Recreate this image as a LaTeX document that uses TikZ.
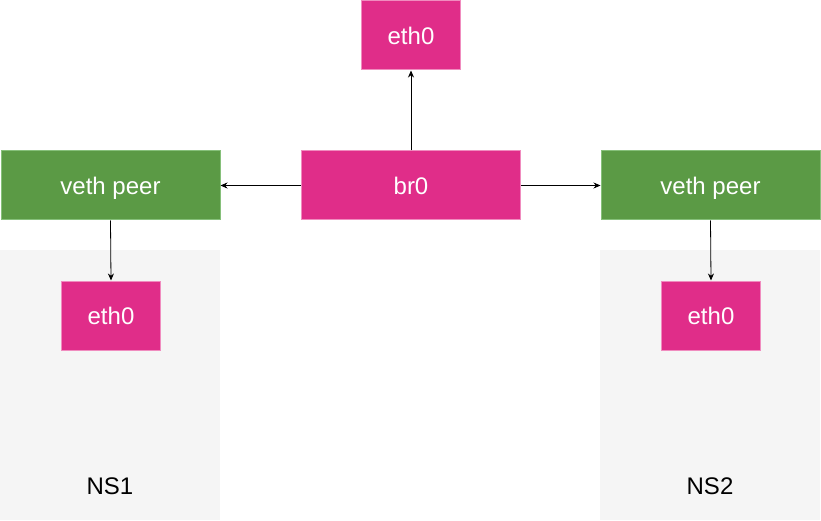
\documentclass[tikz,border=0pt]{standalone}
\usepackage{fontspec}
\setmainfont{Liberation Sans}
\usetikzlibrary{arrows.meta}
\definecolor{pinkfill}{HTML}{E02D89}
\definecolor{pinkline}{HTML}{F08CBF}
\definecolor{greenfill}{HTML}{5B9A45}
\definecolor{greenline}{HTML}{86C07A}
\definecolor{nsgray}{HTML}{F5F5F5}
\begin{document}
\begin{tikzpicture}[x=1pt,y=-1pt,
  txt/.style={font=\fontsize{24}{28}\selectfont,text height=19pt,text depth=1pt},
  pinkbox/.style={draw=pinkline,fill=pinkfill,line width=1pt,text=white,txt,inner sep=0pt,anchor=north west},
  greenbox/.style={draw=greenline,fill=greenfill,line width=1pt,text=white,txt,inner sep=0pt,anchor=north west},
  nsbox/.style={fill=nsgray,draw=none,inner sep=0pt,anchor=north west},
  nslabel/.style={txt,text=black},
  conn/.style={line width=0.8pt,-{Stealth[length=7pt,width=6pt]}}]
\useasboundingbox (0,0) rectangle (821,521);
% namespace backgrounds
\node[nsbox,minimum width=220pt,minimum height=270pt] (ns1) at (0,250) {};
\node[nsbox,minimum width=220pt,minimum height=270pt] (ns2) at (600,250) {};
\node[nslabel] (ns1l) at (110,485) {NS1};
\node[nslabel] (ns2l) at (710,485) {NS2};
% boxes
\node[pinkbox,minimum width=99pt,minimum height=69pt] (eth0top) at (361,0.5) {eth0};
\node[pinkbox,minimum width=219pt,minimum height=69pt] (br0) at (301,150.5) {br0};
\node[greenbox,minimum width=219pt,minimum height=69pt] (vethL) at (0.5,150.5) {veth peer};
\node[greenbox,minimum width=219pt,minimum height=69pt] (vethR) at (600.5,150.5) {veth peer};
\node[pinkbox,minimum width=99pt,minimum height=69pt] (ethL) at (61,280.5) {eth0};
\node[pinkbox,minimum width=99pt,minimum height=69pt] (ethR) at (661,280.5) {eth0};
% connectors
\draw[conn] (br0.west) -- (vethL.east);
\draw[conn] (br0.east) -- (vethR.west);
\draw[conn] (br0.north) -- (eth0top.south);
\draw[conn] (vethL.south) -- (ethL.north);
\draw[conn] (vethR.south) -- (ethR.north);
\end{tikzpicture}
\end{document}
